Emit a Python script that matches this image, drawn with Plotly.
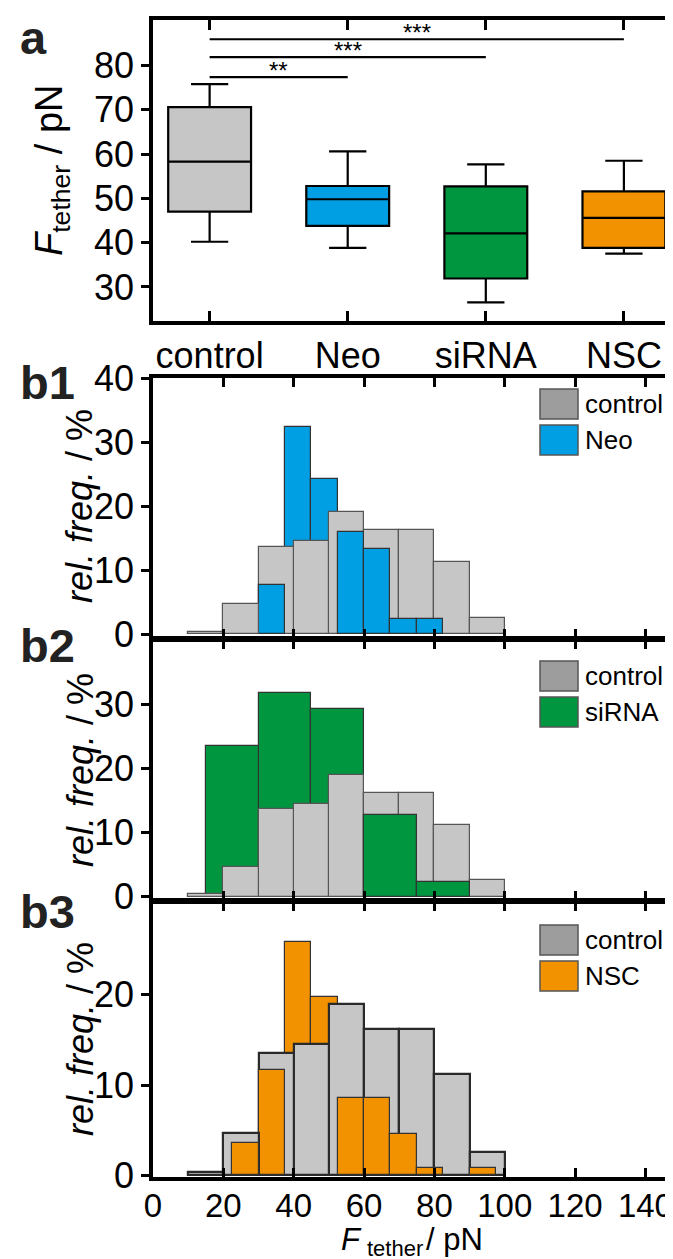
import plotly.graph_objects as go

# ---------------- data ----------------
categories = ["control", "Neo", "siRNA", "NSC"]
box_colors = ["#C6C6C6", "#009FE3", "#00953F", "#F39200"]
whisker_low = [40.2, 38.8, 26.5, 37.5]
q1_vals = [47.0, 43.8, 31.9, 38.8]
median_vals = [58.3, 49.8, 42.1, 45.6]
q3_vals = [70.6, 52.8, 52.7, 51.6]
whisker_high = [75.8, 60.6, 57.7, 58.5]

sig_from = ["control", "control", "control"]
sig_to = ["Neo", "siRNA", "NSC"]
sig_level = [77.4, 81.9, 85.95]
sig_text = ["**", "***", "***"]

a_yticks = [30, 40, 50, 60, 70, 80]
hist_xticks = [0, 20, 40, 60, 80, 100, 120, 140]

control_left = [10, 20, 30, 40, 50, 60, 70, 80, 90]
control_width = 10
control_freq = [0.4, 4.7, 13.6, 14.5, 19.0, 16.2, 16.2, 11.2, 2.6]

neo_left = [30, 37.5, 45, 52.5, 60, 67.5, 75]
neo_width = 7.5
neo_freq = [7.7, 32.4, 24.2, 16.0, 13.3, 2.3, 2.3]

sirna_left = [15, 30, 45, 60, 75]
sirna_width = 15
sirna_freq = [23.5, 31.7, 29.3, 12.8, 2.3]

nsc_left = [22.5, 30, 37.5, 45, 52.5, 60, 67.5, 75, 82.5, 90]
nsc_width = 7.5
nsc_freq = [3.6, 11.7, 25.9, 19.8, 8.6, 8.6, 4.6, 0.8, 0.0, 0.8]

# ---------------- layout helpers ----------------
FIG_W, FIG_H = 673, 1259
L, R, T, B = 145, 667, 12, 1169
PW, PH = R - L, B - T
FONT = "Liberation Sans, Arial, Helvetica, sans-serif"


def xp(px):
    return (px - L) / PW


def yp(py):
    return (B - py) / PH


fig = go.Figure()

# ---------------- panel a: boxes ----------------
pos = {c: i + 1 for i, c in enumerate(categories)}
for i, c in enumerate(categories):
    fig.add_trace(go.Box(
        x=[pos[c]], q1=[q1_vals[i]], median=[median_vals[i]], q3=[q3_vals[i]],
        lowerfence=[whisker_low[i]], upperfence=[whisker_high[i]],
        width=0.6, whiskerwidth=0.45, fillcolor=box_colors[i],
        line=dict(color="black", width=2.2), boxpoints=False,
        showlegend=False, xaxis="x", yaxis="y", hoverinfo="skip"))

annotations = []
for f, t, lvl, s in zip(sig_from, sig_to, sig_level, sig_text):
    fig.add_trace(go.Scatter(x=[pos[f], pos[t]], y=[lvl, lvl], mode="lines",
                             line=dict(color="black", width=2.2),
                             showlegend=False, xaxis="x", yaxis="y", hoverinfo="skip"))
    annotations.append(dict(x=(pos[f] + pos[t]) / 2, y=lvl, xref="x", yref="y",
                            text=s, showarrow=False, yanchor="bottom", yshift=-9,
                            font=dict(family=FONT, size=24, color="black")))


# ---------------- histograms ----------------
def hist_trace(ctrl_left, ctrl_w, ctrl_f, oth_left, oth_w, oth_f, color,
               ctrl_edge, ctrl_lw, xa, ya):
    bars = []
    for l, f in zip(ctrl_left, ctrl_f):
        if f > 0:
            bars.append((f, l + ctrl_w / 2, ctrl_w, "#C6C6C6", ctrl_edge, ctrl_lw))
    for l, f in zip(oth_left, oth_f):
        if f > 0:
            bars.append((f, l + oth_w / 2, oth_w, color, "#333333", 1.2))
    # taller bars behind, shorter bars in front
    bars.sort(key=lambda b: -b[0])
    return go.Bar(
        x=[b[1] for b in bars], y=[b[0] for b in bars], width=[b[2] for b in bars],
        marker=dict(color=[b[3] for b in bars],
                    line=dict(color=[b[4] for b in bars], width=[b[5] for b in bars])),
        showlegend=False, xaxis=xa, yaxis=ya, hoverinfo="skip")


fig.add_trace(hist_trace(control_left, control_width, control_freq,
                         neo_left, neo_width, neo_freq, box_colors[1],
                         "#555555", 1.2, "x2", "y2"))
fig.add_trace(hist_trace(control_left, control_width, control_freq,
                         sirna_left, sirna_width, sirna_freq, box_colors[2],
                         "#555555", 1.2, "x3", "y3"))
fig.add_trace(hist_trace(control_left, control_width, control_freq,
                         nsc_left, nsc_width, nsc_freq, box_colors[3],
                         "#2a2a2a", 2.2, "x4", "y4"))

# ---------------- axes ----------------
line_style = dict(showline=True, linecolor="black", linewidth=3.5, mirror="ticks",
                  showgrid=False, zeroline=False, tickcolor="black", tickwidth=3)
tick_font = dict(family=FONT, size=36, color="black")
bottom_tick_font = dict(family=FONT, size=33, color="black")

dom_a = [yp(313), 1.0]
dom_b1 = [yp(630), yp(370)]
dom_b2 = [yp(892), yp(632)]
dom_b3 = [0.0, yp(894)]

layout = dict(
    width=FIG_W, height=FIG_H,
    margin=dict(l=L, r=FIG_W - R, t=T, b=FIG_H - B, autoexpand=False),
    paper_bgcolor="white", plot_bgcolor="white",
    barmode="overlay", bargap=0,
    xaxis=dict(domain=[0, 1], anchor="y", range=[0.59, 4.37],
               tickvals=[pos[c] for c in categories], ticktext=categories,
               ticks="inside", ticklen=10, tickfont=tick_font, **line_style),
    yaxis=dict(domain=dom_a, anchor="x", range=[22.3, 90.3], tickvals=a_yticks,
               ticks="outside", ticklen=8, tickfont=tick_font, **line_style),
)
b_ranges = {2: [-0.6, 40], 3: [-0.5, 40], 4: [-0.2, 30.3]}
b_doms = {2: dom_b1, 3: dom_b2, 4: dom_b3}
b_yticks = {2: [0, 10, 20, 30, 40], 3: [0, 10, 20, 30], 4: [0, 10, 20]}
for k in (2, 3, 4):
    xa = dict(domain=[0, 1], anchor=f"y{k}", range=[0, 148.4],
              tickvals=hist_xticks, ticks="inside", ticklen=9,
              tickfont=bottom_tick_font, **line_style)
    xa["showticklabels"] = (k == 4)
    layout[f"xaxis{k}"] = xa
    layout[f"yaxis{k}"] = dict(domain=b_doms[k], anchor=f"x{k}", range=b_ranges[k],
                               tickvals=b_yticks[k], ticks="outside", ticklen=8,
                               tickfont=tick_font, **line_style)

# ---------------- titles & labels ----------------
annotations.append(dict(x=xp(44), y=yp(163), xref="paper", yref="paper",
                        text="<i>F</i><sub>tether</sub> / pN", textangle=-90,
                        showarrow=False, xanchor="center", yanchor="middle",
                        font=dict(family=FONT, size=38, color="black")))
for cy in (498, 762, 1031):
    annotations.append(dict(x=xp(72), y=yp(cy), xref="paper", yref="paper",
                            text="<i>rel. freq.</i> / %", textangle=-90,
                            showarrow=False, xanchor="center", yanchor="middle",
                            font=dict(family=FONT, size=36, color="black")))

# bottom x-axis title, built from three pieces so the subscript stays on the page
XT_MAIN, XT_SUB = 31, 22
x_split = 357  # px position where the subscript starts
annotations.append(dict(x=xp(x_split - 1), y=yp(1251), xref="paper", yref="paper",
                        text="<i>F</i>", showarrow=False, xanchor="right",
                        yanchor="bottom", font=dict(family=FONT, size=XT_MAIN, color="black")))
annotations.append(dict(x=xp(x_split), y=yp(1255), xref="paper", yref="paper",
                        text="tether", showarrow=False, xanchor="left",
                        yanchor="bottom", font=dict(family=FONT, size=XT_SUB, color="black")))
annotations.append(dict(x=xp(x_split + 59), y=yp(1251), xref="paper", yref="paper",
                        text="/ pN", showarrow=False, xanchor="left",
                        yanchor="bottom", font=dict(family=FONT, size=XT_MAIN, color="black")))

for lab, cy in (("a", 1), ("b1", 346), ("b2", 609), ("b3", 875)):
    annotations.append(dict(x=xp(10), y=yp(cy), xref="paper", yref="paper",
                            text=f"<b>{lab}</b>", showarrow=False,
                            xanchor="left", yanchor="top",
                            font=dict(family=FONT, size=47, color="#222222")))

# legends (drawn as swatches + text)
shapes = []
legend_specs = [
    (381, "control", "#9D9D9D"), (417, "Neo", box_colors[1]),
    (653, "control", "#9D9D9D"), (689, "siRNA", box_colors[2]),
    (917, "control", "#9D9D9D"), (953, "NSC", box_colors[3]),
]
for top, name, col in legend_specs:
    shapes.append(dict(type="rect", xref="paper", yref="paper",
                       x0=xp(532), x1=xp(570), y0=yp(top + 30), y1=yp(top),
                       fillcolor=col, line=dict(color="#555555", width=1.5)))
    annotations.append(dict(x=xp(575), y=yp(top + 15), xref="paper", yref="paper",
                            text=name, showarrow=False, xanchor="left", yanchor="middle",
                            font=dict(family=FONT, size=26, color="black")))

layout["annotations"] = annotations
layout["shapes"] = shapes
fig.update_layout(**layout)
try:
    fig.update_layout(xaxis4_ticklabelstandoff=-3)
except Exception:
    pass
fig.write_html("out.html")
